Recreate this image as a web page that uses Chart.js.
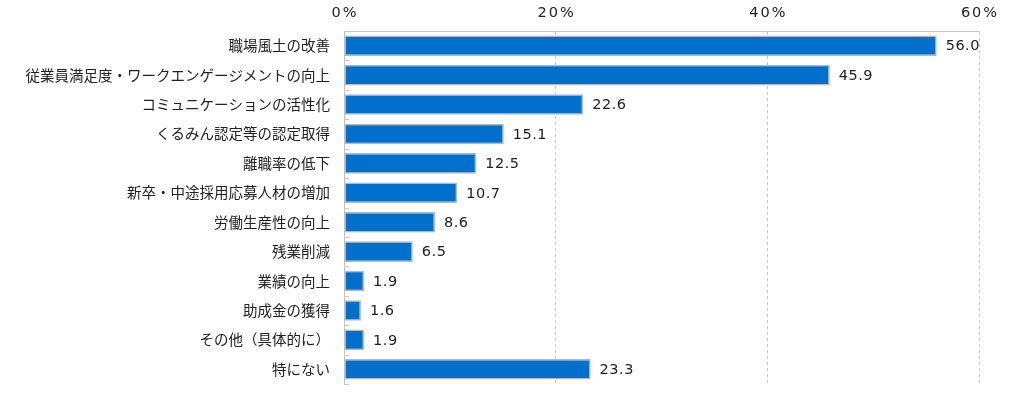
<!DOCTYPE html>
<html>
<head>
<meta charset="utf-8">
<script src="https://cdn.jsdelivr.net/npm/chart.js@4/dist/chart.umd.min.js"></script>
<style>
  html, body { margin: 0; padding: 0; background: #fff; overflow: hidden; }
  #wrap { width: 1024px; height: 396px; }
</style>
</head>
<body>
<div id="wrap"><canvas id="chart"></canvas></div>
<script>
const categories = [
    '職場風土の改善',
    '従業員満足度・ワークエンゲージメントの向上',
    'コミュニケーションの活性化',
    'くるみん認定等の認定取得',
    '離職率の低下',
    '新卒・中途採用応募人材の増加',
    '労働生産性の向上',
    '残業削減',
    '業績の向上',
    '助成金の獲得',
    'その他（具体的に）',
    '特にない'
];
const values = [56.0, 45.9, 22.6, 15.1, 12.5, 10.7, 8.6, 6.5, 1.9, 1.6, 1.9, 23.3];
const xTicks = [0, 20, 40, 60];

// value labels right of each bar
const valueLabels = {
    id: 'valueLabels',
    afterDatasetsDraw(chart) {
        const ctx = chart.ctx;
        const meta = chart.getDatasetMeta(0);
        ctx.save();
        ctx.font = '14.5px "DejaVu Sans"';
        ctx.fillStyle = '#222';
        ctx.textAlign = 'left';
        ctx.textBaseline = 'middle';
        ctx.letterSpacing = '0.5px';
        meta.data.forEach((bar, i) => {
            ctx.fillText(values[i].toFixed(1), bar.x + 9, bar.y + 1);
        });
        ctx.restore();
    }
};

// percent labels on the top axis, drawn with letter spacing
const topLabels = {
    id: 'topLabels',
    afterDraw(chart) {
        const x = chart.scales.x;
        const ctx = chart.ctx;
        ctx.save();
        ctx.font = '14.5px "DejaVu Sans"';
        ctx.fillStyle = '#222';
        ctx.textAlign = 'center';
        ctx.textBaseline = 'middle';
        ctx.letterSpacing = '2px';
        xTicks.forEach(v => {
            ctx.fillText(v + '%', x.getPixelForValue(v) + 1, 13);
        });
        ctx.restore();
    }
};

// short ticks inside the plot between categories
const innerTicks = {
    id: 'innerTicks',
    afterDraw(chart) {
        const y = chart.scales.y;
        const ctx = chart.ctx;
        ctx.save();
        ctx.strokeStyle = '#c8c8c8';
        ctx.lineWidth = 1;
        for (let i = 0; i <= categories.length; i++) {
            const py = Math.round(y.getPixelForValue(i - 0.5)) + 0.5;
            ctx.beginPath();
            ctx.moveTo(y.right, py);
            ctx.lineTo(y.right + 5, py);
            ctx.stroke();
        }
        ctx.restore();
    }
};

new Chart(document.getElementById('chart'), {
    type: 'bar',
    data: {
        labels: categories,
        datasets: [{
            data: values,
            backgroundColor: '#0070cc',
            borderColor: '#b8b8b8',
            borderWidth: 1.5,
            borderSkipped: false,
            barPercentage: 0.7,
            categoryPercentage: 1.0
        }]
    },
    options: {
        indexAxis: 'y',
        responsive: true,
        maintainAspectRatio: false,
        animation: false,
        layout: { padding: { left: 0, right: 45, top: 0, bottom: 12 } },
        plugins: {
            legend: { display: false },
            tooltip: { enabled: false }
        },
        scales: {
            x: {
                position: 'top',
                min: 0,
                max: 60,
                afterBuildTicks(scale) {
                    scale.ticks = xTicks.map(v => ({ value: v }));
                },
                afterFit(scale) { scale.height = 31; },
                ticks: { display: false },
                grid: {
                    color: '#c8c8c8',
                    drawTicks: false
                },
                border: { display: true, color: '#c8c8c8', dash: [3, 3] }
            },
            y: {
                afterFit(scale) {
                    scale.width = 344;
                    scale.paddingTop = 0;
                    scale.paddingBottom = 0;
                },
                ticks: {
                    color: '#222',
                    padding: 6,
                    font: { family: 'Noto Sans CJK JP', size: 14.5 }
                },
                grid: { display: false },
                border: { display: true, color: '#c0c0c0' }
            }
        }
    },
    plugins: [valueLabels, topLabels, innerTicks]
});
</script>
</body>
</html>
